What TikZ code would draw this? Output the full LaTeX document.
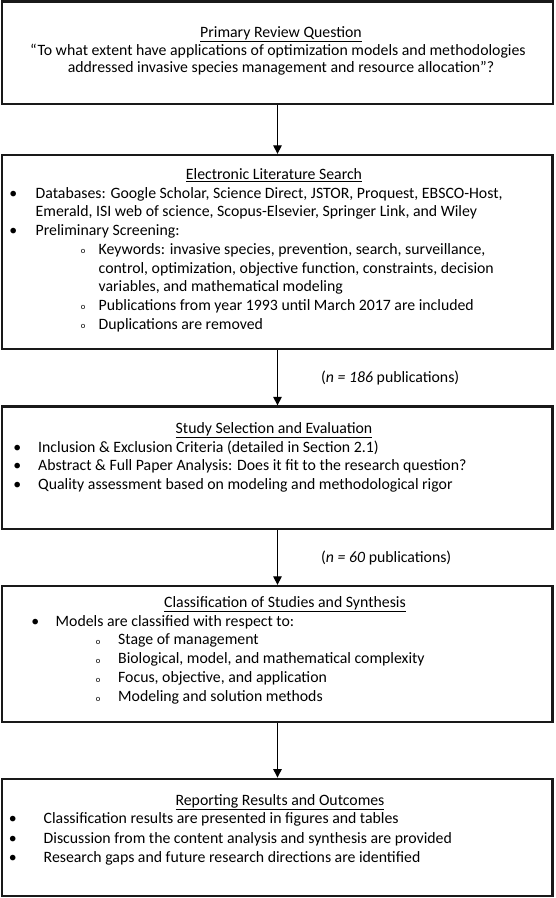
\documentclass[tikz,border=0pt]{standalone}
\usepackage{fontspec}
\setmainfont{Carlito}
\usetikzlibrary{arrows.meta}
\newcommand\itm[3]{\hbox{\kern#1pt\makebox[0pt][c]{\textbullet}\kern\dimexpr#2pt-#1pt\relax #3}}
\newcommand\sub[3]{\hbox{\kern#1pt\makebox[0pt][c]{\raisebox{0.6pt}{\fontsize{8.5}{8.5}\selectfont o}}\kern\dimexpr#2pt-#1pt\relax #3}}
\tikzset{
  box/.style={draw=black!90, line width=2.3pt, rectangle, inner sep=0pt, fill=white},
  ttl/.style={anchor=base, inner sep=0pt, font=\fontsize{15.8}{18}\selectfont},
  body/.style={anchor=base west, inner sep=0pt, font=\fontsize{15.8}{18.75}\selectfont},
  lbl/.style={anchor=base west, inner sep=0pt, font=\fontsize{15.8}{18}\selectfont},
  flow/.style={draw=black, line width=1.2pt, -{Triangle[width=8.5pt,length=8.5pt]}}
}
\begin{document}
\begin{tikzpicture}[x=1pt,y=-1pt]
\useasboundingbox (0,0) rectangle (555,898);
% boxes
\node[box, minimum width=551pt, minimum height=102.5pt] (b1) at (277.5,52.75) {};
\node[box, minimum width=550.5pt, minimum height=194pt] (b2) at (277.25,252) {};
\node[box, minimum width=550.5pt, minimum height=122.5pt] (b3) at (277.25,467.75) {};
\node[box, minimum width=550.5pt, minimum height=136pt] (b4) at (277.25,654) {};
\node[box, minimum width=550.5pt, minimum height=117.3pt] (b5) at (277.25,837.35) {};
% arrows
\draw[flow] (b1.south -| 277.5,0) coordinate (a1s) -- (a1s |- b2.north);
\draw[flow] (b2.south -| 277.5,0) coordinate (a2s) -- (a2s |- b3.north);
\draw[flow] (b3.south -| 277.5,0) coordinate (a3s) -- (a3s |- b4.north);
\draw[flow] (b4.south -| 277.5,0) coordinate (a4s) -- (a4s |- b5.north);
% box 1
\node[ttl] (t1) at (281,37) {\underline{Primary Review Question}};
\node[ttl] (q1) at (278,55.5) {“To what extent\ have applications of optimization models and methodologies};
\node[ttl] (q2) at (281,72.5) {addressed invasive species management\ and resource allocation”?};
% box 2
\node[ttl] (t2) at (274,179.5) {\underline{Electronic Literature Search}};
\node[body] (c2) at (0,198) {\parbox[t]{550pt}{\baselineskip=18.75pt
\itm{13}{35.5}{Databases: Google Scholar, Science Direct, JSTOR, Proquest, EBSCO-Host,}
\hbox{\kern35.5pt Emerald, ISI web of science, Scopus-Elsevier, Springer Link, and Wiley}
\itm{13}{35.5}{Preliminary Screening:}
\sub{83}{98.5}{Keywords: invasive species, prevention, search, surveillance,}
\hbox{\kern98.5pt control, optimization, objective function, constraints, decision}
\hbox{\kern98.5pt variables, and mathematical modeling}
\sub{83}{98.5}{Publications from year 1993 until March 2017 are included}
\sub{83}{98.5}{Duplications are removed}}};
\node[lbl] (n1) at (321,382) {(\textit{n = 186} publications)};
% box 3
\node[ttl] (t3) at (274,433) {\underline{Study Selection\ and Evaluation}};
\node[body] (c3) at (0,452) {\parbox[t]{550pt}{\baselineskip=18.75pt
\itm{17}{38}{Inclusion \& Exclusion Criteria (detailed in Section 2.1)}
\itm{17}{38}{Abstract \& Full Paper Analysis: Does it fit to the research question?}
\itm{17}{38}{Quality assessment based on modeling and methodological rigor}}};
\node[lbl] (n2) at (321,562) {(\textit{n = 60} publications)};
% box 4
\node[ttl] (t4) at (285,607) {\underline{Classification of Studies and Synthesis}};
\node[body] (c4) at (0,626) {\parbox[t]{550pt}{\baselineskip=18.9pt
\itm{35}{55.5}{Models are classified with respect to:}
\sub{98}{118}{Stage of management}
\sub{98}{118}{Biological, model, and mathematical\ complexity}
\sub{98}{118}{Focus, objective, and application}
\sub{98}{118}{Modeling and solution methods}}};
% box 5
\node[ttl] (t5) at (280,805) {\underline{Reporting Results and Outcomes}};
\node[body] (c5) at (0,823.5) {\parbox[t]{550pt}{\baselineskip=19.5pt
\itm{12.5}{43.5}{Classification results are presented in figures and tables}
\itm{12.5}{43.5}{Discussion from the content analysis and synthesis are provided}
\itm{12.5}{43.5}{Research gaps and future research directions are identified}}};
\end{tikzpicture}
\end{document}
